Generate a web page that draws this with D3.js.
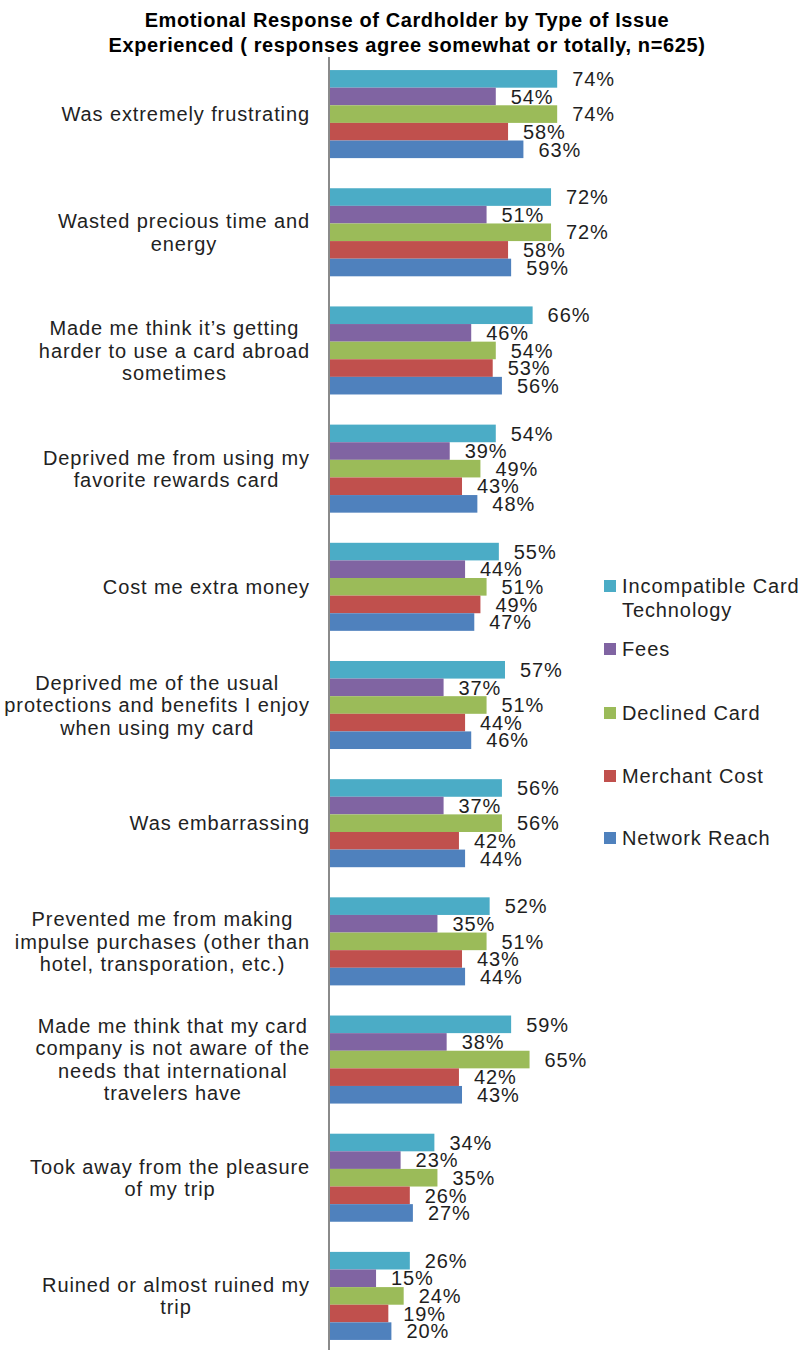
<!DOCTYPE html>
<html>
<head>
<meta charset="utf-8">
<script src="https://cdn.jsdelivr.net/npm/d3@7"></script>
<style>
  html, body { margin: 0; padding: 0; background: #fff; }
  svg { display: block; font-family: "Liberation Sans", Arial, sans-serif; }
</style>
</head>
<body>
<svg id="chart" width="801" height="1350"></svg>
<script>
// Survey statements (line breaks as wrapped in the category axis)
const categories = [
  "Was extremely frustrating",
  "Wasted precious time and\nenergy",
  "Made me think it’s getting\nharder to use a card abroad\nsometimes",
  "Deprived me from using my\nfavorite rewards card",
  "Cost me extra money",
  "Deprived me of the usual\nprotections and benefits I enjoy\nwhen using my card",
  "Was embarrassing",
  "Prevented me from making\nimpulse purchases (other than\nhotel, transporation, etc.)",
  "Made me think that my card\ncompany is not aware of the\nneeds that international\ntravelers have",
  "Took away from the pleasure\nof my trip",
  "Ruined or almost ruined my\ntrip"
];

const seriesNames = ["Incompatible Card\nTechnology", "Fees", "Declined Card", "Merchant Cost", "Network Reach"];

// Share of respondents agreeing (%), one array per issue type
const incompatibleCard = [74, 72, 66, 54, 55, 57, 56, 52, 59, 34, 26];
const fees             = [54, 51, 46, 39, 44, 37, 37, 35, 38, 23, 15];
const declinedCard     = [74, 72, 54, 49, 51, 51, 56, 51, 65, 35, 24];
const merchantCost     = [58, 58, 53, 43, 49, 44, 42, 43, 42, 26, 19];
const networkReach     = [63, 59, 56, 48, 47, 46, 44, 44, 43, 27, 20];

const seriesValues = [incompatibleCard, fees, declinedCard, merchantCost, networkReach];
const seriesColors = ["#4BACC6", "#8064A2", "#9BBB59", "#C0504D", "#4F81BD"];

const titleLines = [
  "Emotional Response of Cardholder by Type of Issue",
  "Experienced ( responses agree somewhat or totally, n=625)"
];

const svg = d3.select("#chart");
const fontSize = 20;
const spacing = "0.9px";

// Scales
const x = d3.scaleLinear().domain([0, 100]).range([330, 637]);
const y0 = d3.scaleBand().domain(d3.range(categories.length)).range([55, 1355])
  .paddingInner(0.255).paddingOuter(0.1275);
const y1 = d3.scaleBand().domain(d3.range(seriesNames.length)).range([0, y0.bandwidth()]);

// Title
svg.append("g").selectAll("text").data(titleLines).join("text")
  .attr("x", 407).attr("y", (d, i) => 27 + i * 25)
  .attr("text-anchor", "middle")
  .attr("font-size", 20).attr("font-weight", "bold")
  .attr("letter-spacing", "0.6px")
  .attr("fill", "#000")
  .text(d => d);

// Bars
const groups = svg.append("g").selectAll("g").data(categories).join("g")
  .attr("transform", (d, i) => `translate(0,${y0(i)})`);

groups.each(function(cat, ci) {
  const g = d3.select(this);
  const rows = seriesValues.map((vals, si) => ({ si, v: vals[ci] }));
  g.selectAll("rect").data(rows).join("rect")
    .attr("x", x(0))
    .attr("y", d => y1(d.si))
    .attr("width", d => x(d.v) - x(0))
    .attr("height", y1.bandwidth())
    .attr("fill", d => seriesColors[d.si]);
  g.selectAll("text.val").data(rows).join("text")
    .attr("class", "val")
    .attr("x", d => x(d.v) + 15)
    .attr("y", d => y1(d.si) + y1.bandwidth() / 2)
    .attr("dy", "0.36em")
    .attr("font-size", fontSize)
    .attr("letter-spacing", spacing)
    .attr("fill", "#1e1e1e")
    .text(d => d.v + "%");
});

// Category axis line
svg.append("line")
  .attr("x1", 329).attr("x2", 329)
  .attr("y1", 57).attr("y2", 1350)
  .attr("stroke", "#8a8a8a").attr("stroke-width", 2);

// Category labels: block right-aligned to the axis, lines centred in the block
const lineH = 22.5;
const labelRight = 310;
categories.forEach((cat, ci) => {
  const lines = cat.split("\n");
  const cy = y0(ci) + y0.bandwidth() / 2;
  const g = svg.append("g");
  const texts = g.selectAll("text").data(lines).join("text")
    .attr("font-size", fontSize)
    .attr("letter-spacing", spacing)
    .attr("fill", "#222")
    .attr("text-anchor", "middle")
    .attr("y", (d, i) => cy + (i - (lines.length - 1) / 2) * lineH)
    .attr("dy", "0.36em")
    .text(d => d);
  let w = 0;
  texts.each(function() { w = Math.max(w, this.getComputedTextLength()); });
  texts.attr("x", labelRight - w / 2);
});

// Legend
const legendY = [586, 649, 713, 776, 838];
const legend = svg.append("g").selectAll("g").data(seriesNames).join("g")
  .attr("transform", (d, i) => `translate(604,${legendY[i]})`);
legend.append("rect")
  .attr("x", 0).attr("y", -6).attr("width", 12).attr("height", 12)
  .attr("fill", (d, i) => seriesColors[i]);
legend.each(function(name) {
  d3.select(this).selectAll("text").data(name.split("\n")).join("text")
    .attr("x", 18)
    .attr("y", (d, i) => i * 24)
    .attr("dy", "0.36em")
    .attr("font-size", fontSize)
    .attr("letter-spacing", spacing)
    .attr("fill", "#222")
    .text(d => d);
});
</script>
</body>
</html>
